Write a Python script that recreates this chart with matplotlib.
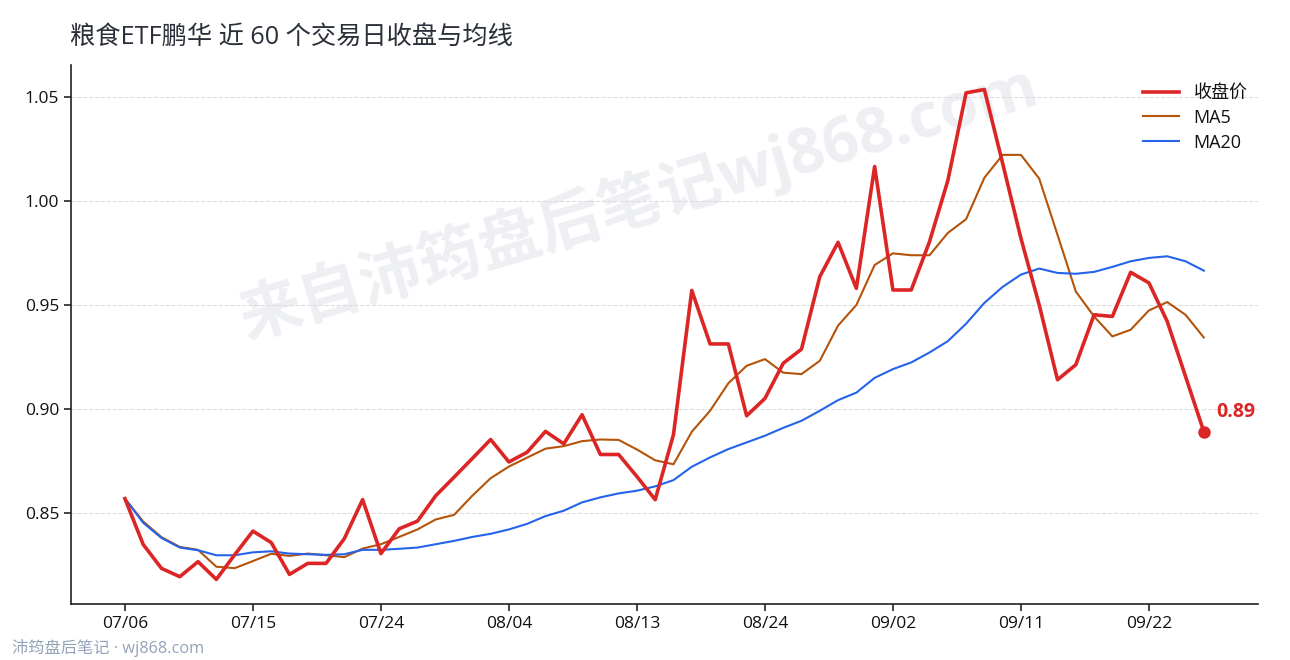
import matplotlib
matplotlib.use("Agg")
import matplotlib.pyplot as plt

plt.rcParams["font.family"] = ["Open Sans", "Noto Sans CJK SC", "DejaVu Sans"]

# 60 trading days, close + moving averages
close = [
    0.857, 0.835, 0.8235, 0.8195, 0.8267, 0.8182, 0.830, 0.8414, 0.8359, 0.8206,
    0.8259, 0.8259, 0.8378, 0.8565, 0.8306, 0.8425, 0.8462, 0.8584, 0.8673, 0.8763,
    0.8854, 0.8746, 0.8793, 0.8893, 0.8833, 0.8973, 0.8782, 0.8782, 0.8676, 0.8565,
    0.8878, 0.9570, 0.9313, 0.9313, 0.8968, 0.9051, 0.9220, 0.9288, 0.9636, 0.9801,
    0.9580, 1.0165, 0.9572, 0.9572, 0.9804, 1.0097, 1.0519, 1.0535, 1.018, 0.982,
    0.950, 0.9141, 0.9213, 0.9453, 0.9445, 0.9657, 0.9606, 0.9421, 0.9157, 0.8892,
]
ma5 = [
    0.857, 0.846, 0.8385, 0.8338, 0.8324, 0.8243, 0.8236, 0.8270, 0.8305, 0.8295,
    0.8306, 0.8298, 0.8289, 0.8330, 0.8351, 0.8386, 0.8422, 0.8470, 0.8492, 0.8584,
    0.8668, 0.8724, 0.8767, 0.8810, 0.8822, 0.8846, 0.8854, 0.8852, 0.8806, 0.8754,
    0.8735, 0.8891, 0.8992, 0.9124, 0.9208, 0.9240, 0.9175, 0.9168, 0.9232, 0.9401,
    0.9500, 0.9692, 0.9748, 0.9739, 0.9739, 0.9846, 0.9912, 1.0111, 1.0221, 1.0221,
    1.0107, 0.9837, 0.9565, 0.9445, 0.9349, 0.9381, 0.9474, 0.9514, 0.9453, 0.9344,
]
ma20 = [
    0.857, 0.8454, 0.8381, 0.8335, 0.8322, 0.8298, 0.8298, 0.8312, 0.8317, 0.8306,
    0.8303, 0.8300, 0.8303, 0.8324, 0.8324, 0.8329, 0.8335, 0.8351, 0.8367, 0.8386,
    0.8401, 0.8422, 0.8449, 0.8486, 0.8512, 0.8552, 0.8576, 0.8595, 0.8608, 0.8629,
    0.8659, 0.8723, 0.8768, 0.8808, 0.8840, 0.8872, 0.8910, 0.8944, 0.8992, 0.9043,
    0.9079, 0.9150, 0.9192, 0.9224, 0.9272, 0.9326, 0.9410, 0.9510, 0.9587, 0.9646,
    0.9675, 0.9654, 0.9650, 0.9659, 0.9683, 0.9710, 0.9726, 0.9734, 0.9710, 0.9665,
]
tick_labels = ["07/06", "07/15", "07/24", "08/04", "08/13", "08/24", "09/02", "09/11", "09/22"]
tick_step = 7

x = list(range(len(close)))

fig = plt.figure(figsize=(12.9, 6.6), dpi=100)
ax = fig.add_axes([0.055, 0.085, 0.920, 0.8165])

ax.text(0.478, 0.745, "来自沛筠盘后笔记wj868.com", transform=ax.transAxes,
        fontsize=45, fontweight="bold", color="#cbd0dc", alpha=0.34,
        rotation=16.5, ha="center", va="center", zorder=0)

ax.plot(x, close, color="#dc2626", lw=2.6, label="收盘价", zorder=4)
ax.plot(x, ma5, color="#b45309", lw=1.5, label="MA5", zorder=3)
ax.plot(x, ma20, color="#2563eb", lw=1.5, label="MA20", zorder=3)

# last close marker + label
ax.plot(x[-1], close[-1], "o", color="#dc2626", ms=8, zorder=5)
ax.annotate(f"{close[-1]:.2f}", (x[-1], close[-1]), xytext=(9, 14),
            textcoords="offset points", color="#dc2626", fontsize=14,
            fontweight="bold", va="center", ha="left")

ax.set_yticks([0.85, 0.90, 0.95, 1.00, 1.05])
ax.set_yticklabels(["0.85", "0.90", "0.95", "1.00", "1.05"])
ax.set_xticks(x[::tick_step])
ax.set_xticklabels(tick_labels)
ax.tick_params(labelsize=12.5, length=5, width=1.1, colors="#111111")
ax.grid(axis="y", ls="--", color="#dddddd", lw=0.8)
ax.set_axisbelow(True)

for side in ["top", "right"]:
    ax.spines[side].set_visible(False)
for side in ["left", "bottom"]:
    ax.spines[side].set_color("#222222")
    ax.spines[side].set_linewidth(1.2)

ax.legend(loc="upper right", frameon=False, fontsize=13, handlelength=2.0,
          bbox_to_anchor=(1.005, 0.995), labelspacing=0.38, labelcolor="#111111")

fig.text(0.054, 0.944, "粮食ETF鹏华 近 60 个交易日收盘与均线", fontsize=18.2,
         color="#2a2f3a", ha="left", va="center")
fig.text(0.009, 0.018, "沛筠盘后笔记 · wj868.com", fontsize=11.7,
         color="#94a3b8", ha="left", va="center")

fig.savefig("out.png", dpi=100)
